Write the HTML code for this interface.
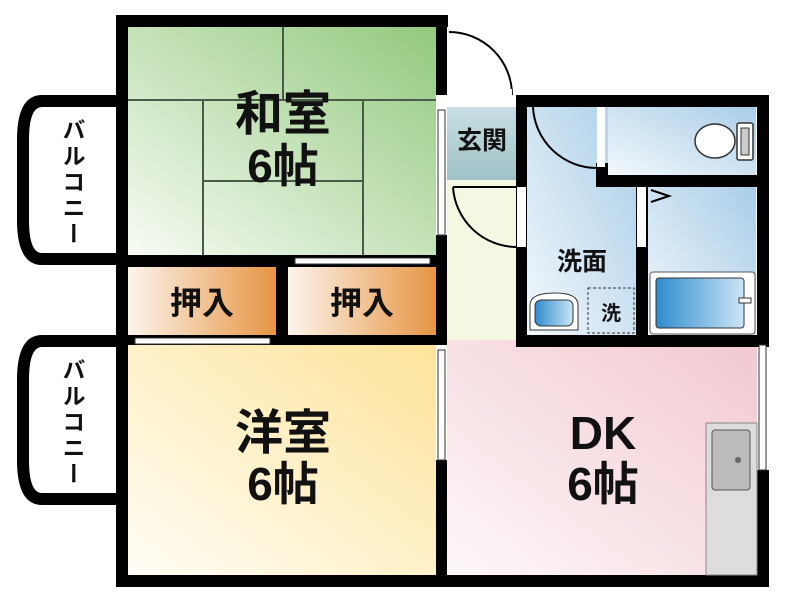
<!DOCTYPE html>
<html><head><meta charset="utf-8"><style>
body{margin:0;background:#fff;}
svg text{font-family:"Liberation Sans","Noto Sans CJK JP",sans-serif;font-weight:bold;fill:#111;}
.v{writing-mode:vertical-rl;letter-spacing:3px;}
</style></head><body>
<svg width="788" height="600" viewBox="0 0 788 600" xmlns="http://www.w3.org/2000/svg">
<defs>
<linearGradient id="g1" x1="0" y1="1" x2="1" y2="0"><stop offset="0" stop-color="#f7fbf4"/><stop offset="1" stop-color="#93c97e"/></linearGradient>
<linearGradient id="g2" x1="0" y1="0" x2="1" y2="0"><stop offset="0" stop-color="#fdf4ec"/><stop offset="1" stop-color="#e69543"/></linearGradient>
<linearGradient id="g3" x1="0" y1="1" x2="1" y2="0"><stop offset="0" stop-color="#fffdf6"/><stop offset="1" stop-color="#fde49a"/></linearGradient>
<linearGradient id="g4" x1="0" y1="1" x2="1" y2="0"><stop offset="0" stop-color="#fdf7f8"/><stop offset="1" stop-color="#f2c9d0"/></linearGradient>
<linearGradient id="g5" x1="0" y1="1" x2="1" y2="0"><stop offset="0" stop-color="#f3f8fc"/><stop offset="1" stop-color="#a9cde8"/></linearGradient>
<linearGradient id="g6" x1="0" y1="0" x2="0" y2="1"><stop offset="0" stop-color="#c9dfe3"/><stop offset="1" stop-color="#9fc1c6"/></linearGradient>
<linearGradient id="g7" x1="0" y1="0" x2="1" y2="0"><stop offset="0" stop-color="#2f8ccc"/><stop offset="1" stop-color="#cde5f6"/></linearGradient>
</defs>
<path d="M116,101 H42 Q23,101 23,140 V220 Q23,259 42,259 H116" fill="#fff" stroke="#000" stroke-width="12"/>
<path d="M116,341 H42 Q23,341 23,380 V460 Q23,499 42,499 H116" fill="#fff" stroke="#000" stroke-width="12"/>
<rect x="128" y="27" width="308" height="228" fill="url(#g1)"/>
<g stroke="#4a5a48" stroke-width="2" fill="none">
<line x1="128" y1="100" x2="436" y2="100"/><line x1="283" y1="27" x2="283" y2="100"/>
<line x1="203" y1="100" x2="203" y2="255"/><line x1="363" y1="100" x2="363" y2="255"/>
<line x1="203" y1="181" x2="363" y2="181"/></g>
<rect x="128" y="267" width="148" height="68" fill="url(#g2)"/>
<rect x="288" y="267" width="148" height="68" fill="url(#g2)"/>
<rect x="128" y="345" width="308" height="230" fill="url(#g3)"/>
<rect x="447" y="340" width="310" height="235" fill="url(#g4)"/>
<rect x="447" y="107" width="70" height="73" fill="url(#g6)"/>
<rect x="447" y="180" width="70" height="160" fill="#f4f7e2"/>
<rect x="527" y="107" width="110" height="228" fill="url(#g5)"/>
<rect x="608" y="107" width="148" height="68" fill="url(#g5)"/>
<rect x="648" y="187" width="108" height="148" fill="url(#g5)"/>
<g fill="#000">
<rect x="116" y="15" width="332" height="12"/>
<rect x="116" y="15" width="12" height="572"/>
<rect x="116" y="575" width="653" height="12"/>
<rect x="436" y="15" width="11" height="80"/>
<rect x="436" y="235" width="11" height="110"/>
<rect x="436" y="460" width="11" height="115"/>
<rect x="128" y="255" width="308" height="12"/>
<rect x="276" y="267" width="12" height="70"/>
<rect x="128" y="335" width="308" height="10"/>
<rect x="516" y="95" width="253" height="12"/>
<rect x="757" y="95" width="12" height="250"/>
<rect x="757" y="470" width="12" height="117"/>
<rect x="516" y="95" width="11" height="252"/>
<rect x="516" y="335" width="253" height="12"/>
<rect x="596" y="163" width="12" height="24"/>
<rect x="596" y="175" width="173" height="12"/>
<rect x="636" y="175" width="12" height="165"/>
</g>
<g fill="#fff" stroke="#333" stroke-width="1">
<rect x="295" y="258" width="135" height="6"/><rect x="135" y="338" width="135" height="6"/>
<rect x="438" y="110" width="7" height="125"/><rect x="438" y="350" width="7" height="110"/>
<rect x="759" y="345" width="7" height="125"/>
</g>
<g fill="none" stroke="#000" stroke-width="2">
<path d="M449,32 A63,63 0 0 1 512,95"/><line x1="449" y1="93" x2="512" y2="93" stroke="#fff" stroke-width="8"/>
<path d="M453,187 H517 M453,187 A64,64 0 0 0 517,247"/>
<path d="M533,107 A64,64 0 0 0 597,168"/>
<path d="M651,190 L669,196 L651,202"/>
</g>
<rect x="517" y="187" width="9" height="60" fill="#fff"/>
<rect x="597" y="107" width="8" height="60" fill="#fff"/>
<rect x="637" y="187" width="9" height="60" fill="#fff"/>
<ellipse cx="715" cy="141" rx="20" ry="17" fill="#fff" stroke="#333" stroke-width="1.5"/>
<rect x="737" y="123" width="16" height="37" rx="2" fill="#fff" stroke="#333" stroke-width="1.5"/>
<rect x="741" y="128" width="8" height="27" fill="#ccc" stroke="#333"/>
<rect x="650" y="272" width="105" height="62" rx="3" fill="#fff" stroke="#555"/>
<rect x="656" y="278" width="88" height="50" rx="3" fill="url(#g7)" stroke="#333"/>
<rect x="739" y="298" width="12" height="5" fill="#fff" stroke="#333"/>
<path d="M530,330 V305 Q530,293 555,293 Q578,293 578,305 V330 Z" fill="#fff" stroke="#333"/>
<rect x="535" y="300" width="38" height="26" rx="6" fill="url(#g7)" stroke="#333"/>
<rect x="588" y="288" width="46" height="45" fill="none" stroke="#333" stroke-dasharray="3,2"/>
<rect x="706" y="423" width="51" height="152" fill="#ddd" stroke="#888"/>
<rect x="712" y="430" width="38" height="60" rx="3" fill="#bbb" stroke="#555"/>
<circle cx="738" cy="460" r="3" fill="#666"/>
<text x="283" y="130" font-size="48" text-anchor="middle">和室</text>
<text x="283" y="182" font-size="46" text-anchor="middle">6帖</text>
<text x="202" y="314" font-size="32" text-anchor="middle">押入</text>
<text x="362" y="314" font-size="32" text-anchor="middle">押入</text>
<text x="283" y="449" font-size="48" text-anchor="middle">洋室</text>
<text x="283" y="500" font-size="46" text-anchor="middle">6帖</text>
<text x="603" y="449" font-size="46" text-anchor="middle">DK</text>
<text x="603" y="500" font-size="46" text-anchor="middle">6帖</text>
<text x="482" y="149" font-size="25" text-anchor="middle">玄関</text>
<text x="582" y="270" font-size="25" text-anchor="middle">洗面</text>
<text x="611" y="320" font-size="20" text-anchor="middle">洗</text>
<text class="v" x="72" y="118" font-size="23">バルコニー</text>
<text class="v" x="72" y="358" font-size="23">バルコニー</text>
</svg>
</body></html>
